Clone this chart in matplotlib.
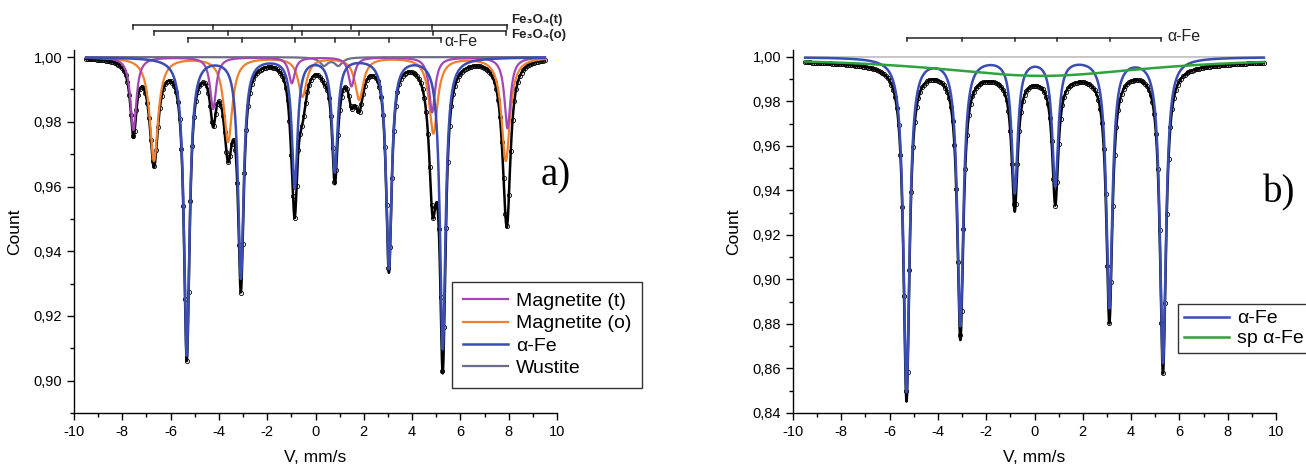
import numpy as np
import matplotlib
matplotlib.use("Agg")
import matplotlib.pyplot as plt
from matplotlib.ticker import MultipleLocator, FuncFormatter

# ---------------- data ----------------
# Panel a) : sextet / doublet line parameters (position mm/s, depth, FWHM mm/s)
mag_t_pos = [-7.54, -4.24, -0.98, 1.49, 4.83, 7.95]
mag_t_depth = [0.0225, 0.0160, 0.0080, 0.0090, 0.0170, 0.0220]
mag_t_width = 0.30

mag_o_pos = [-6.69, -3.62, -0.54, 1.81, 4.88, 7.88]
mag_o_depth = [0.0320, 0.0260, 0.0120, 0.0130, 0.0234, 0.0320]
mag_o_width = 0.42

fe_a_pos = [-5.33, -3.09, -0.86, 0.80, 3.04, 5.27]
fe_a_depth = [0.092, 0.068, 0.040, 0.035, 0.065, 0.090]
fe_a_width = 0.28

wus_pos = [0.35, 0.95]
wus_depth = [0.0025, 0.0025]
wus_width = 0.40

# Panel b)
fe_b_pos = [-5.30, -3.07, -0.82, 0.86, 3.10, 5.32]
fe_b_depth = [0.150, 0.120, 0.060, 0.057, 0.112, 0.137]
fe_b_width = 0.30

sp_pos = [0.30]
sp_depth = [0.0085]
sp_width = 11.0

# stick diagrams (line positions)
stick_t = [-7.54, -4.24, -0.98, 1.49, 4.83, 7.95]
stick_o = [-6.69, -3.62, -0.54, 1.81, 4.88, 7.88]
stick_fe_a = [-5.29, -3.04, -0.85, 0.80, 3.05, 5.20]
stick_fe_b = [-5.26, -2.99, -0.81, 0.92, 3.11, 5.24]

v_range = (-9.5, 9.5)
n_channels = 256

# ---------------- helpers ----------------
def lorentz_sum(v, pos, depth, width):
    out = np.zeros_like(v)
    for p, d in zip(pos, depth):
        out += d / (1.0 + (2.0 * (v - p) / width) ** 2)
    return out

v = np.linspace(v_range[0], v_range[1], 2000)
vch = np.linspace(v_range[0], v_range[1], n_channels)

plt.rcParams['font.family'] = ['Liberation Sans', 'DejaVu Sans']
plt.rcParams['axes.unicode_minus'] = False

fig = plt.figure(figsize=(13.06, 4.65), dpi=100)
W, H = 1306.0, 465.0

def axes_px(l, r, t, b):
    return fig.add_axes([l / W, 1 - b / H, (r - l) / W, (b - t) / H])

axA = axes_px(74, 557, 50, 413)
axB = axes_px(793, 1276, 50.3, 413)

c_purple = '#a347b5'
c_orange = '#f0802e'
c_blue = '#3a4db3'
c_gray = '#6e6e82'
c_green = '#2ea23c'

comma = FuncFormatter(lambda x, p: ('%.2f' % x).replace('.', ','))

def style(ax, ylo, yhi):
    ax.set_xlim(-10, 10)
    ax.set_ylim(ylo, yhi)
    for s in ['top', 'right']:
        ax.spines[s].set_visible(False)
    for s in ['left', 'bottom']:
        ax.spines[s].set_linewidth(1.0)
    ax.xaxis.set_major_locator(MultipleLocator(2))
    ax.xaxis.set_minor_locator(MultipleLocator(1))
    ax.yaxis.set_major_locator(MultipleLocator(0.02))
    ax.yaxis.set_minor_locator(MultipleLocator(0.01))
    ax.yaxis.set_major_formatter(comma)
    ax.tick_params(which='major', direction='out', length=5, width=1, labelsize=10.5)
    ax.tick_params(which='minor', direction='out', length=3, width=1)
    ax.set_xlabel('V, mm/s', fontsize=12.5, labelpad=8)
    ax.set_ylabel('Count', fontsize=12.5, labelpad=8)

# ---------------- panel a ----------------
tA = lorentz_sum(v, mag_t_pos, mag_t_depth, mag_t_width)
oA = lorentz_sum(v, mag_o_pos, mag_o_depth, mag_o_width)
fA = lorentz_sum(v, fe_a_pos, fe_a_depth, fe_a_width)
wA = lorentz_sum(v, wus_pos, wus_depth, wus_width)
totA = 1 - (tA + oA + fA + wA)
totA_ch = 1 - (lorentz_sum(vch, mag_t_pos, mag_t_depth, mag_t_width)
               + lorentz_sum(vch, mag_o_pos, mag_o_depth, mag_o_width)
               + lorentz_sum(vch, fe_a_pos, fe_a_depth, fe_a_width)
               + lorentz_sum(vch, wus_pos, wus_depth, wus_width))

axA.plot(vch, totA_ch, 'o', ms=3.0, mfc='none', mec='black', mew=0.6, zorder=2)
axA.plot(v, totA, color='black', lw=1.8, zorder=3)
axA.plot(v, 1 - wA, color=c_gray, lw=1.6, zorder=4, label='Wustite')
axA.plot(v, 1 - oA, color=c_orange, lw=1.6, zorder=5, label='Magnetite (o)')
axA.plot(v, 1 - tA, color=c_purple, lw=1.6, zorder=6, label='Magnetite (t)')
axA.plot(v, 1 - fA, color=c_blue, lw=1.8, zorder=7, label='α-Fe')
style(axA, 0.89, 1.0022)

h, l = axA.get_legend_handles_labels()
order = ['Magnetite (t)', 'Magnetite (o)', 'α-Fe', 'Wustite']
hh = [h[l.index(k)] for k in order]
legA = axA.legend(hh, order, loc='lower left', bbox_to_anchor=(0.783, 0.069),
                  borderaxespad=0, fontsize=14, frameon=True, fancybox=False,
                  edgecolor='#333333', framealpha=1, handlelength=2.3,
                  handletextpad=0.45, labelspacing=0.25, borderpad=0.55)
legA.get_frame().set_linewidth(1.0)

def pxA(py):
    return 1 - (py - 57) / 3240.0

def sticks(ax, pos, y, tick, **kw):
    ax.plot([pos[0], pos[-1]], [y, y], color='#222222', lw=1.1, clip_on=False)
    for p in pos:
        ax.plot([p, p], [y, y - tick], color='#222222', lw=1.1, clip_on=False)

sticks(axA, stick_t, pxA(25), 0.0013)
sticks(axA, stick_o, pxA(30.7), 0.0013)
sticks(axA, stick_fe_a, pxA(37.7), 0.0013)
axA.text(8.1, pxA(20), 'Fe₃O₄(t)', fontsize=9.5, fontweight='bold', va='center', ha='left',
         clip_on=False, family=['Liberation Sans', 'DejaVu Sans'], color='#222222')
axA.text(8.1, pxA(35), 'Fe₃O₄(o)', fontsize=9.5, fontweight='bold', va='center', ha='left',
         clip_on=False, family=['Liberation Sans', 'DejaVu Sans'], color='#222222')
axA.text(5.35, pxA(41.5), 'α-Fe', fontsize=11.5, va='center', ha='left', clip_on=False,
         color='#222222')

fig.text(541 / W, 1 - 185 / H, 'a)', fontsize=28, family='Liberation Serif', ha='left',
         va='baseline')

# ---------------- panel b ----------------
fB = lorentz_sum(v, fe_b_pos, fe_b_depth, fe_b_width)
sB = lorentz_sum(v, sp_pos, sp_depth, sp_width)
totB = 1 - (fB + sB)
totB_ch = 1 - (lorentz_sum(vch, fe_b_pos, fe_b_depth, fe_b_width)
               + lorentz_sum(vch, sp_pos, sp_depth, sp_width))

axB.plot(v, np.ones_like(v), color='#b0b0b0', lw=1.0, zorder=1)
axB.plot(vch, totB_ch, 'o', ms=3.0, mfc='none', mec='black', mew=0.6, zorder=2)
axB.plot(v, totB, color='black', lw=1.8, zorder=3)
axB.plot(v, 1 - fB, color=c_blue, lw=1.8, zorder=4, label='α-Fe')
axB.plot(v, 1 - sB, color=c_green, lw=1.8, zorder=5, label='sp α-Fe')
style(axB, 0.84, 1.003)

legB = axB.legend(loc='lower left', bbox_to_anchor=(0.797, 0.165), borderaxespad=0,
                  fontsize=14, frameon=True, fancybox=False, edgecolor='#333333',
                  framealpha=1, handlelength=2.3, handletextpad=0.45,
                  labelspacing=0.12, borderpad=0.3)
legB.get_frame().set_linewidth(1.0)

def pxB(py):
    return 1 - (py - 57) / 2225.0

sticks(axB, stick_fe_b, pxB(38), 0.0015)
axB.text(5.5, pxB(37), 'α-Fe', fontsize=11.5, va='center', ha='left', clip_on=False,
         color='#222222')

fig.text(1263 / W, 1 - 202 / H, 'b)', fontsize=28, family='Liberation Serif', ha='left',
         va='baseline')

fig.savefig('out.png', dpi=100)
